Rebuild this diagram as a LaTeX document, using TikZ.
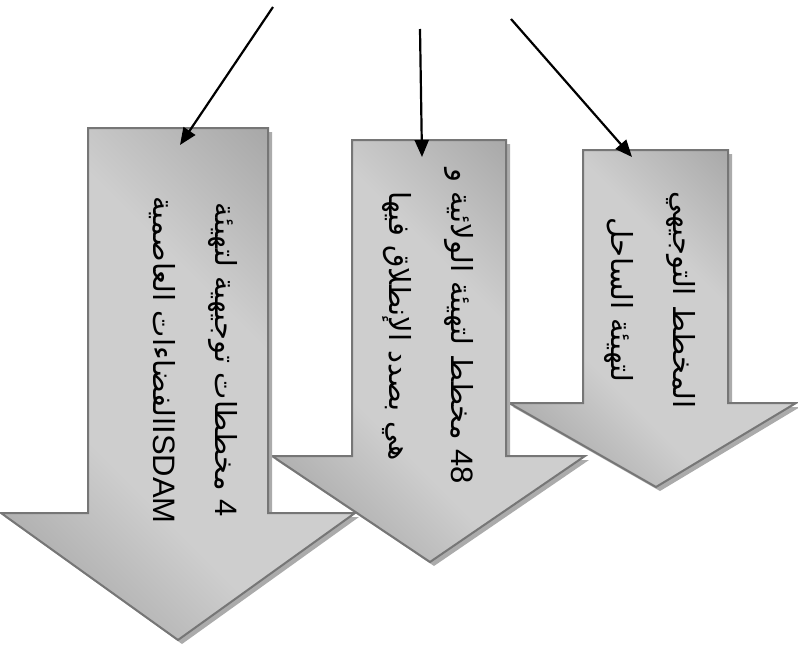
\documentclass[tikz,border=0pt]{standalone}
\usepackage{fontspec}
\setmainfont{Liberation Sans}
\newfontfamily\arabicfont[Script=Arabic]{DejaVu Sans}
\TeXXeTstate=1
\usetikzlibrary{arrows.meta}

\definecolor{edgegray}{HTML}{767676}
\definecolor{shadowgray}{HTML}{ABABAB}
\definecolor{darkfill}{HTML}{7A7A7A}
\definecolor{lightfill}{HTML}{CECECE}

% metallic grey fill: dark at two opposite corners, light along the middle
\pgfdeclarehorizontalshading{steel}{100bp}{color(0bp)=(darkfill); color(38bp)=(lightfill); color(60bp)=(lightfill); color(100bp)=(darkfill)}

\tikzset{
  arrowbody/.style={draw=edgegray, line width=2pt, line join=miter, shading=steel, shading angle=45},
  arrowshadow/.style={fill=shadowgray},
  pointer/.style={line width=2.2pt, -{Triangle[length=17pt,width=14pt]}},
  arrowtext/.style={rotate=-90, align=center, inner sep=0pt,
    font=\arabicfont\fontsize{29}{62}\selectfont},
}
\newcommand\latin[1]{{\rmfamily\fontsize{31}{62}\selectfont #1}}

% block arrow pointing down:
% #1,#2 shaft left/right x, #3 top y, #4 neck y, #5,#6 head left/right x, #7,#8 tip x/y
\newcommand\blockarrow[8]{%
  \fill[arrowshadow, shift={(4,4)}] (#1,#3) -- (#2,#3) -- (#2,#4) -- (#6,#4) -- (#7,#8) -- (#5,#4) -- (#1,#4) -- cycle;
  \shadedraw[arrowbody] (#1,#3) -- (#2,#3) -- (#2,#4) -- (#6,#4) -- (#7,#8) -- (#5,#4) -- (#1,#4) -- cycle;
}

\begin{document}
\begin{tikzpicture}[x=1pt, y=-1pt]
\useasboundingbox (0,0) rectangle (798,645);

% the three block arrows, back to front
\blockarrow{583}{728}{150}{403}{509}{796}{656}{487}
\blockarrow{352}{506}{140}{456}{272}{585}{430}{562}
\blockarrow{88}{268}{128}{513}{1}{355}{178}{640}

% texts written down the shafts
\node[arrowtext] (t1) at (193,360) {%
  \beginR\beginL\latin{4}\endL{} مخططات توجيهية لتهيئة\endR\\
  \beginR\beginL\latin{ISDAM}\endL الفضاءات العاصمية\endR};
\node[arrowtext] (t2) at (428,326) {%
  \beginR\beginL\latin{48}\endL{} مخطط لتهيئة الولائية و\endR\\
  \beginR هي بصدد الإنطلاق فيها\endR};
\node[arrowtext] (t3) at (650,300) {%
  \beginR المخطط التوجيهي\endR\\
  \beginR لتهيئة الساحل\endR};

% pointers coming in from above
\coordinate (s1) at (273,7);
\coordinate (e1) at (180,145);
\coordinate (s2) at (420,29);
\coordinate (e2) at (422,157);
\coordinate (s3) at (511,19);
\coordinate (e3) at (632,157);
\draw[pointer] (s1) -- (e1);
\draw[pointer] (s2) -- (e2);
\draw[pointer] (s3) -- (e3);
\end{tikzpicture}
\end{document}
